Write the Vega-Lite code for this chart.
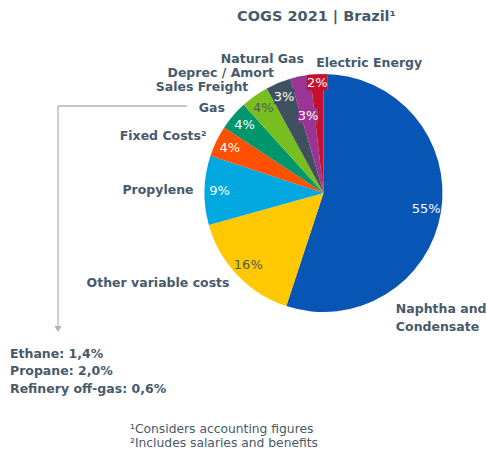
{
  "$schema": "https://vega.github.io/schema/vega-lite/v6.json",
  "width": 327,
  "height": 326,
  "autosize": {"type": "none"},
  "padding": {"left": 160, "top": 30, "right": 0, "bottom": 98},
  "background": "white",
  "title": {"text": "COGS 2021 | Brazil¹", "font": "DejaVu Sans", "fontSize": 14.5, "fontWeight": "bold", "color": "#475a6d", "anchor": "middle", "dx": -7, "offset": 6},
  "config": {"view": {"stroke": null}},
  "data": {"values": [
    {"rank": 1, "category": "Naphtha and\nCondensate", "share": 0.55},
    {"rank": 2, "category": "Other variable costs", "share": 0.156},
    {"rank": 3, "category": "Propylene", "share": 0.094},
    {"rank": 4, "category": "Fixed Costs²", "share": 0.042},
    {"rank": 5, "category": "Gas", "share": 0.04},
    {"rank": 6, "category": "Sales Freight", "share": 0.038},
    {"rank": 7, "category": "Deprec / Amort", "share": 0.034},
    {"rank": 8, "category": "Natural Gas", "share": 0.027},
    {"rank": 9, "category": "Electric Energy", "share": 0.018}
  ]},
  "layer": [
    {
      "encoding": {
        "theta": {"field": "share", "type": "quantitative", "stack": true},
        "order": {"field": "rank", "type": "quantitative"},
        "detail": {"field": "category", "type": "nominal"}
      },
      "layer": [
        {
          "mark": {"type": "arc", "outerRadius": 119},
          "encoding": {
            "color": {"field": "category", "type": "nominal", "legend": null,
              "scale": {
                "domain": ["Naphtha and\nCondensate", "Other variable costs", "Propylene", "Fixed Costs²", "Gas", "Sales Freight", "Deprec / Amort", "Natural Gas", "Electric Energy"],
                "range": ["#0756b5", "#ffc800", "#00a8e0", "#ff5000", "#00966c", "#78be20", "#3f505e", "#9b3595", "#c8102e"]
              }}
          }
        },
        {
          "mark": {"type": "text", "radius": 104, "font": "DejaVu Sans", "fontSize": 13, "align": "center", "baseline": "middle"},
          "encoding": {
            "text": {"condition": {"test": "datum.rank == 7", "value": "██"}, "value": ""},
            "color": {"field": "category", "type": "nominal", "legend": null}
          }
        },
        {
          "mark": {"type": "text", "radius": 79, "font": "DejaVu Sans", "fontSize": 13, "align": "center", "baseline": "middle"},
          "encoding": {
            "text": {"condition": {"test": "datum.rank == 8", "value": "██"}, "value": ""},
            "color": {"field": "category", "type": "nominal", "legend": null}
          }
        },
        {
          "mark": {"type": "text", "radius": 110, "font": "DejaVu Sans", "fontSize": 13, "align": "center", "baseline": "middle"},
          "encoding": {
            "text": {"condition": {"test": "datum.rank == 9", "value": "██"}, "value": ""},
            "color": {"field": "category", "type": "nominal", "legend": null}
          }
        },
        {
          "mark": {"type": "text", "radius": 104, "font": "DejaVu Sans", "fontSize": 13, "align": "center", "baseline": "middle"},
          "encoding": {
            "text": {"condition": {"test": "datum.rank <= 7", "field": "share", "type": "quantitative", "format": ".0%"}, "value": ""},
            "color": {"condition": {"test": "datum.rank == 2 || datum.rank == 6", "value": "#555a55"}, "value": "white"}
          }
        },
        {
          "mark": {"type": "text", "radius": 79, "font": "DejaVu Sans", "fontSize": 13, "align": "center", "baseline": "middle", "color": "white"},
          "encoding": {
            "text": {"condition": {"test": "datum.rank == 8", "field": "share", "type": "quantitative", "format": ".0%"}, "value": ""}
          }
        },
        {
          "mark": {"type": "text", "radius": 110, "font": "DejaVu Sans", "fontSize": 13, "align": "center", "baseline": "middle", "color": "white"},
          "encoding": {
            "text": {"condition": {"test": "datum.rank == 9", "field": "share", "type": "quantitative", "format": ".0%"}, "value": ""}
          }
        },
        {
          "mark": {"type": "text", "radius": 130, "font": "DejaVu Sans", "fontSize": 12.5, "fontWeight": "bold", "align": "right", "baseline": "middle", "color": "#475a6d"},
          "encoding": {
            "text": {"condition": {"test": "datum.rank >= 2 && datum.rank <= 7", "field": "category", "type": "nominal"}, "value": ""}
          }
        },
        {
          "mark": {"type": "text", "radius": 130, "dx": 6, "dy": -7, "font": "DejaVu Sans", "fontSize": 12.5, "fontWeight": "bold", "align": "right", "baseline": "middle", "color": "#475a6d"},
          "encoding": {
            "text": {"condition": {"test": "datum.rank == 8", "field": "category", "type": "nominal"}, "value": ""}
          }
        },
        {
          "mark": {"type": "text", "radius": 130, "font": "DejaVu Sans", "fontSize": 12.5, "fontWeight": "bold", "align": "left", "baseline": "middle", "color": "#475a6d"},
          "encoding": {
            "text": {"condition": {"test": "datum.rank == 9", "field": "category", "type": "nominal"}, "value": ""}
          }
        },
        {
          "mark": {"type": "text", "radius": 130, "dx": -56, "dy": 95, "lineBreak": "\n", "lineHeight": 18, "font": "DejaVu Sans", "fontSize": 12.5, "fontWeight": "bold", "align": "left", "baseline": "middle", "color": "#475a6d"},
          "encoding": {
            "text": {"condition": {"test": "datum.rank == 1", "field": "category", "type": "nominal"}, "value": ""}
          }
        }
      ]
    },
    {
      "data": {"values": [{}]},
      "mark": {"type": "rule", "color": "#b4b4b4", "strokeWidth": 1.3},
      "encoding": {"x": {"value": -102}, "x2": {"value": 27}, "y": {"value": 76}, "y2": {"value": 76}}
    },
    {
      "data": {"values": [{}]},
      "mark": {"type": "rule", "color": "#b4b4b4", "strokeWidth": 1.3},
      "encoding": {"x": {"value": -102}, "x2": {"value": -102}, "y": {"value": 76}, "y2": {"value": 295}}
    },
    {
      "data": {"values": [{}]},
      "mark": {"type": "point", "shape": "triangle-down", "x": -102, "y": 299, "size": 55, "filled": true, "opacity": 1, "color": "#b4b4b4"},
      "encoding": {}
    },
    {
      "data": {"values": [{}]},
      "mark": {"type": "text", "x": -150, "y": 327.5, "text": ["Ethane: 1,4%", "Propane: 2,0%", "Refinery off-gas: 0,6%"], "lineHeight": 17.5, "font": "DejaVu Sans", "fontSize": 12.5, "fontWeight": "bold", "align": "left", "baseline": "alphabetic", "color": "#475a6d"},
      "encoding": {}
    },
    {
      "data": {"values": [{}]},
      "mark": {"type": "text", "x": -30, "y": 402.5, "text": ["¹Considers accounting figures", "²Includes salaries and benefits"], "lineHeight": 14, "font": "DejaVu Sans", "fontSize": 12.3, "align": "left", "baseline": "alphabetic", "color": "#475a6d"},
      "encoding": {}
    }
  ]
}
